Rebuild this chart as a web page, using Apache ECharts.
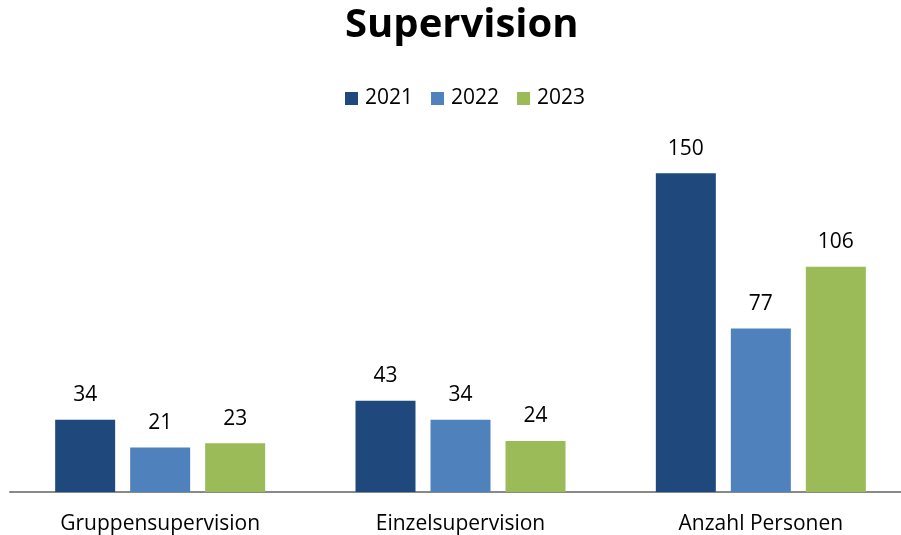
<!DOCTYPE html>
<html>
<head>
<meta charset="utf-8">
<script src="https://cdn.jsdelivr.net/npm/echarts@6/dist/echarts.min.js"></script>
<style>
  html, body { margin: 0; padding: 0; background: #fff; }
  #chart { width: 901px; height: 535px; }
</style>
</head>
<body>
<div id="chart"></div>
<script>
// Supervision counts per year
const categories = ['Gruppensupervision', 'Einzelsupervision', 'Anzahl Personen'];
const years = ['2021', '2022', '2023'];
const values2021 = [34, 43, 150];
const values2022 = [21, 34, 77];
const values2023 = [23, 24, 106];

const colors = ['#1F497D', '#4F81BD', '#9BBB59'];
const FONT = '"Open Sans"';

const chart = echarts.init(document.getElementById('chart'));

function barSeries(name, data, color) {
  return {
    name: name,
    type: 'bar',
    data: data,
    barWidth: 60,
    barGap: '25%',
    itemStyle: { color: color },
    label: {
      show: true,
      position: 'top',
      distance: 14,
      color: '#000',
      fontFamily: FONT,
      fontSize: 21
    }
  };
}

chart.setOption({
  animation: false,
  textStyle: { fontFamily: FONT },
  title: {
    text: 'Supervision',
    left: 340,
    top: 1,
    textStyle: { fontFamily: FONT, fontWeight: 'bold', fontSize: 40, color: '#000' }
  },
  legend: {
    data: years,
    top: 83,
    left: 340,
    itemWidth: 13,
    itemHeight: 13,
    itemGap: 18,
    icon: 'rect',
    textStyle: { fontFamily: FONT, fontSize: 21, color: '#000', padding: [0, 0, 0, 2] }
  },
  grid: { left: 10, width: 901, top: 152, bottom: 43, outerBoundsMode: 'none', containLabel: false },
  xAxis: {
    type: 'category',
    data: categories,
    axisLine: { show: true, lineStyle: { color: '#898989', width: 2 } },
    axisTick: { show: false },
    axisLabel: { color: '#000', fontFamily: FONT, fontSize: 21, margin: 22 }
  },
  yAxis: {
    type: 'value',
    min: 0,
    max: 160,
    show: false,
    splitLine: { show: false }
  },
  series: [
    barSeries(years[0], values2021, colors[0]),
    barSeries(years[1], values2022, colors[1]),
    barSeries(years[2], values2023, colors[2])
  ]
});
</script>
</body>
</html>
